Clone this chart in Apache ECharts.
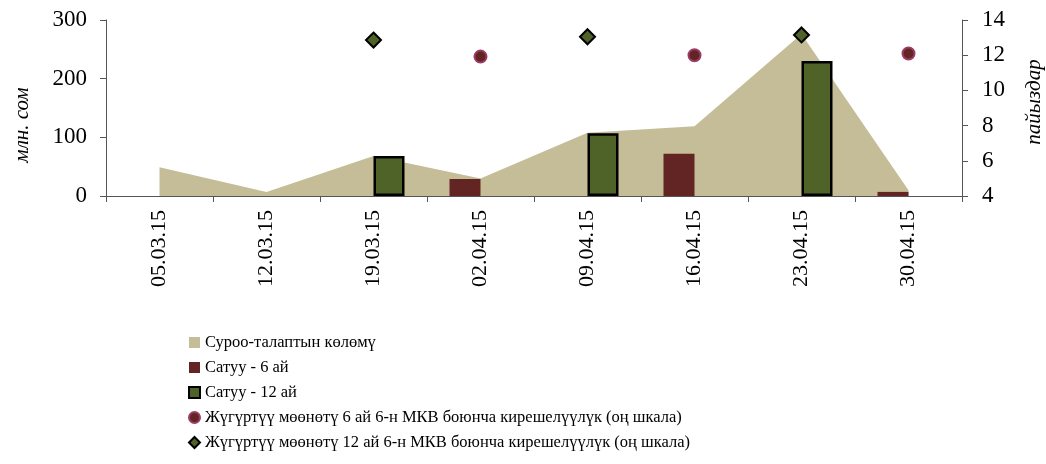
<!DOCTYPE html>
<html><head><meta charset="utf-8">
<script src="https://cdn.jsdelivr.net/npm/echarts@6/dist/echarts.min.js"></script>
<style>html,body{margin:0;padding:0;background:#fff}#c{width:1046px;height:464px}</style>
</head><body><div id="c"></div>
<script>
const categories = ['05.03.15','12.03.15','19.03.15','02.04.15','09.04.15','16.04.15','23.04.15','30.04.15'];
const demand = [49, 7, 68, 30, 108, 119, 276, 10];
const sale6 = [null, null, null, 29, null, 72, null, 7];
const sale12 = [null, null, 68, null, 107, null, 230, null];
const yield6 = [null, null, null, 11.92, null, 12.0, null, 12.1];
const yield12 = [null, null, 12.86, null, 13.05, null, 13.15, null];
const leftTicks = {min: 0, max: 300, interval: 100};
const rightTicks = {min: 4, max: 14, interval: 2};
const names = ['Суроо-талаптын көлөмү','Сатуу - 6 ай','Сатуу - 12 ай',
  'Жүгүртүү мөөнөтү 6 ай 6-н МКВ боюнча кирешелүүлүк (оң шкала)',
  'Жүгүртүү мөөнөтү 12 ай 6-н МКВ боюнча кирешелүүлүк (оң шкала)'];

const FONT = "'Liberation Serif','Times New Roman',serif";
const chart = echarts.init(document.getElementById('c'), null, {renderer: 'canvas'});
const axisLine = {show: true, lineStyle: {color: '#555', width: 1}};
chart.setOption({
  animation: false,
  textStyle: {fontFamily: FONT, color: '#000'},
  grid: {left: 106, right: 84, top: 20, bottom: 268, containLabel: false},
  legend: {
    orient: 'vertical', left: 188, top: 334, height: 140, padding: 0,
    itemWidth: 11, itemHeight: 11, itemGap: 8,
    textStyle: {fontFamily: FONT, fontSize: 16.5, color: '#000'},
    data: [
      {name: names[0], icon: 'rect'},
      {name: names[1], icon: 'rect'},
      {name: names[2], icon: 'rect'},
      {name: names[3], icon: 'circle'},
      {name: names[4], icon: 'diamond'}
    ]
  },
  xAxis: {
    type: 'category', data: categories, boundaryGap: true,
    axisLine: axisLine,
    axisTick: {show: true, length: 6, lineStyle: {color: '#555'}},
    axisLabel: {rotate: 90, interval: 0, margin: 14, fontFamily: FONT, fontSize: 22, color: '#000'}
  },
  yAxis: [
    {type: 'value', min: leftTicks.min, max: leftTicks.max, interval: leftTicks.interval,
     splitLine: {show: false}, axisLine: axisLine,
     axisTick: {show: true, length: 6, lineStyle: {color: '#555'}},
     axisLabel: {fontFamily: FONT, fontSize: 23, color: '#000', margin: 19}},
    {type: 'value', min: rightTicks.min, max: rightTicks.max, interval: rightTicks.interval,
     position: 'right', splitLine: {show: false}, axisLine: axisLine,
     axisTick: {show: true, length: 6, lineStyle: {color: '#555'}},
     axisLabel: {fontFamily: FONT, fontSize: 23, color: '#000', margin: 20}}
  ],
  graphic: [
    {type: 'text', x: 22, y: 125, rotation: Math.PI/2,
     style: {text: 'млн. сом', font: 'italic 21px ' + FONT, fill: '#000', textAlign: 'center', textVerticalAlign: 'middle'}},
    {type: 'text', x: 1034, y: 102, rotation: Math.PI/2,
     style: {text: 'пайыздар', font: 'italic 21px ' + FONT, fill: '#000', textAlign: 'center', textVerticalAlign: 'middle'}}
  ],
  series: [
    {name: names[0], type: 'line', data: demand, symbol: 'none', lineStyle: {width: 0},
     itemStyle: {color: '#c4bd97'}, areaStyle: {color: '#c4bd97', opacity: 1}, z: 1},
    {name: names[1], type: 'bar', data: sale6, barWidth: 31, barGap: '0%',
     itemStyle: {color: '#632523'}, z: 2},
    {name: names[2], type: 'bar', data: sale12, barWidth: 31, barGap: '0%',
     itemStyle: {color: '#4f6228', borderColor: '#000', borderWidth: 2.5}, z: 2},
    {name: names[3], type: 'scatter', yAxisIndex: 1, data: yield6, symbol: 'circle', symbolSize: 12,
     itemStyle: {color: '#632523', borderColor: '#9b3c67', borderWidth: 2, opacity: 1}, z: 3},
    {name: names[4], type: 'scatter', yAxisIndex: 1, data: yield12, symbol: 'diamond', symbolSize: 15,
     itemStyle: {color: '#4f6228', borderColor: '#000', borderWidth: 2, opacity: 1}, z: 3}
  ]
});
</script></body></html>
